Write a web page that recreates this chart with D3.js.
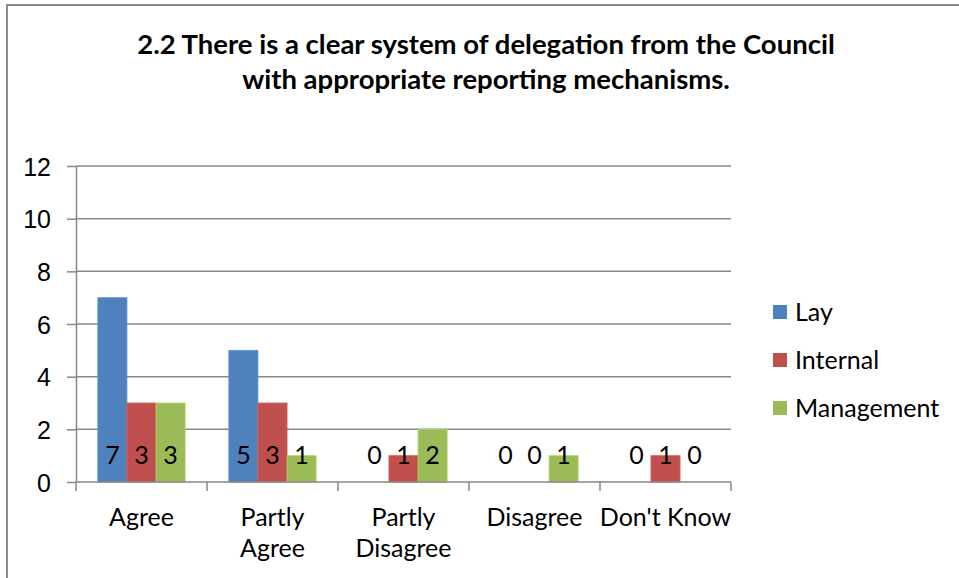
<!DOCTYPE html>
<html>
<head>
<meta charset="utf-8">
<script src="https://cdn.jsdelivr.net/npm/d3@7"></script>
<style>
    body { margin: 0; background: #fff; }
    svg { display: block; font-family: Lato, 'Open Sans', sans-serif; }
    .grid line { stroke: #878787; stroke-width: 1.5; }
    .axis path, .axis line { stroke: #878787; stroke-width: 1.5; }
    .axis text { fill: #000; font-size: 25px; }
</style>
</head>
<body>
<svg class="canvas" width="959" height="578"></svg>
<script>
// chart values
var categories = ['Agree', 'Partly Agree', 'Partly Disagree', 'Disagree', "Don't Know"];
var categoryLines = [['Agree'], ['Partly', 'Agree'], ['Partly', 'Disagree'], ['Disagree'], ["Don't Know"]];
var series = ['Lay', 'Internal', 'Management'];
var lay = [7, 5, 0, 0, 0];
var internal = [3, 3, 1, 0, 1];
var management = [3, 1, 2, 1, 0];
var yTicks = [0, 2, 4, 6, 8, 10, 12];
var titleLines = ['2.2 There is a clear system of delegation from the Council',
    'with appropriate reporting mechanisms.'];

var colors = {Lay: '#4F81BD', Internal: '#C0504D', Management: '#9BBB59'};
var values = {Lay: lay, Internal: internal, Management: management};

var svg = d3.select('.canvas');

// outer chart frame
svg.append('rect')
    .attr('x', 7)
    .attr('y', 5)
    .attr('width', 1000)
    .attr('height', 700)
    .attr('fill', '#fff')
    .attr('stroke', '#8a8a8a')
    .attr('stroke-width', 2);

// title
svg.append('text')
    .attr('text-anchor', 'middle')
    .attr('font-weight', 'bold')
    .attr('font-size', 27.5)
    .selectAll('tspan')
    .data(titleLines)
    .join('tspan')
    .attr('x', 486)
    .attr('y', (d, i) => 54 + i * 35)
    .text(d => d);

var plot = {left: 76, right: 731, top: 166, bottom: 482};

var x0 = d3.scaleBand()
    .domain(categories)
    .range([plot.left, plot.right]);

// excel gap width 150%
var x1 = d3.scaleBand()
    .domain(series)
    .range([0, x0.bandwidth()])
    .paddingOuter(0.75);

var y = d3.scaleLinear()
    .domain([0, 12])
    .range([plot.bottom, plot.top]);

// gridlines
svg.append('g')
    .classed('grid', true)
    .selectAll('line')
    .data(yTicks.filter(t => t > 0))
    .join('line')
    .attr('x1', plot.left)
    .attr('x2', plot.right)
    .attr('y1', d => y(d))
    .attr('y2', d => y(d));

// y axis
var yAxis = svg.append('g')
    .classed('axis', true)
    .attr('transform', 'translate(' + plot.left + ',0)')
    .call(d3.axisLeft(y).tickValues(yTicks).tickSize(9).tickPadding(16).tickSizeOuter(0));
yAxis.selectAll('text').attr('dy', '0.36em');

// bars
var groups = svg.append('g')
    .selectAll('g')
    .data(categories)
    .join('g')
    .attr('transform', d => 'translate(' + x0(d) + ',0)');

groups.selectAll('rect')
    .data((c, i) => series.map(s => ({series: s, value: values[s][i]})))
    .join('rect')
    .attr('x', d => x1(d.series))
    .attr('width', x1.bandwidth())
    .attr('y', d => y(d.value))
    .attr('height', d => y(0) - y(d.value))
    .attr('fill', d => colors[d.series])
    .attr('stroke', d => d3.color(colors[d.series]).brighter(0.4))
    .attr('stroke-width', 0.8);

// data labels sit at the base of each bar
groups.selectAll('text')
    .data((c, i) => series.map(s => ({series: s, value: values[s][i]})))
    .join('text')
    .attr('x', d => x1(d.series) + x1.bandwidth() / 2)
    .attr('y', y(0) - 18)
    .attr('text-anchor', 'middle')
    .attr('font-size', 25)
    .text(d => d.value);

// x axis
var xAxis = svg.append('g')
    .classed('axis', true)
    .attr('transform', 'translate(0,' + plot.bottom + ')');

xAxis.append('line')
    .attr('x1', plot.left)
    .attr('x2', plot.right);

xAxis.selectAll('.tick')
    .data(d3.range(categories.length + 1))
    .join('line')
    .classed('tick', true)
    .attr('x1', i => plot.left + i * x0.step())
    .attr('x2', i => plot.left + i * x0.step())
    .attr('y1', 0)
    .attr('y2', 9);

xAxis.selectAll('text.cat')
    .data(categories)
    .join('text')
    .classed('cat', true)
    .attr('text-anchor', 'middle')
    .each(function (d, i) {
        d3.select(this).selectAll('tspan')
            .data(categoryLines[i])
            .join('tspan')
            .attr('x', x0(d) + x0.bandwidth() / 2)
            .attr('y', (t, j) => 44 + j * 31)
            .text(t => t);
    });

// legend
var legend = svg.append('g')
    .selectAll('g')
    .data(series)
    .join('g')
    .attr('transform', (d, i) => 'translate(773,' + (312 + i * 48) + ')');

legend.append('rect')
    .attr('x', 0)
    .attr('y', -7)
    .attr('width', 14)
    .attr('height', 14)
    .attr('fill', d => colors[d]);

legend.append('text')
    .attr('x', 22)
    .attr('dy', '0.36em')
    .attr('font-size', 25)
    .text(d => d);
</script>
</body>
</html>
